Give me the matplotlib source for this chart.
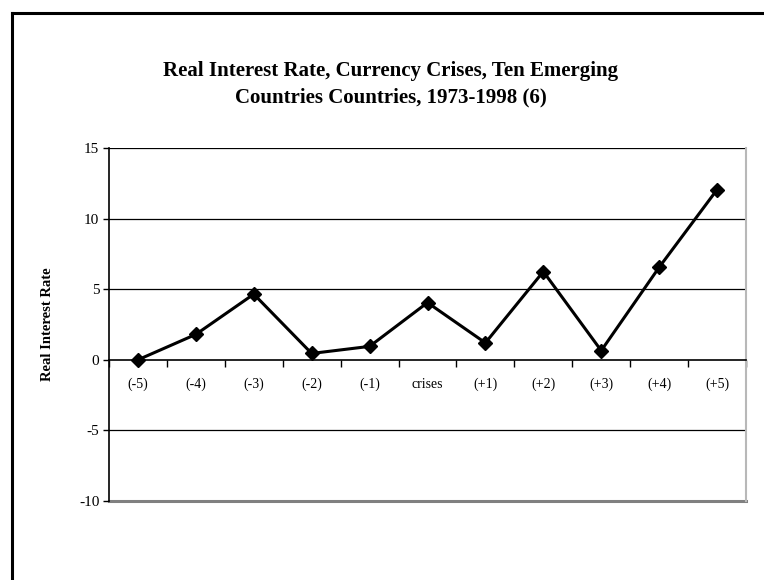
import numpy as np
import matplotlib
matplotlib.use("Agg")
import matplotlib.pyplot as plt
from matplotlib.lines import Line2D

periods = ["(-5)", "(-4)", "(-3)", "(-2)", "(-1)", "crises", "(+1)", "(+2)", "(+3)", "(+4)", "(+5)"]
real_rate = [0.0, 1.8, 4.65, 0.45, 0.95, 4.05, 1.2, 6.25, 0.65, 6.55, 12.05]
y_ticks = [-10, -5, 0, 5, 10, 15]

plt.rcParams['font.family'] = ['Liberation Serif', 'DejaVu Serif']
plt.rcParams['axes.unicode_minus'] = False

fig = plt.figure(figsize=(7.64, 5.8), dpi=100)
ax = fig.add_axes([109 / 764, 79 / 580, 637 / 764, 353 / 580])

x = np.arange(len(periods))

# horizontal grid lines, drawn by hand so 0 and -10 can differ
for t in y_ticks:
    if t in (0, -10):
        continue
    ax.axhline(t, color="black", lw=0.9, zorder=1)
ax.axhline(-10, color="#808080", lw=2.2, zorder=1, clip_on=False)

ax.plot(x, real_rate, color="black", lw=2.2, marker="D", markersize=7, zorder=3)

ax.set_xlim(-0.5, len(periods) - 0.5)
ax.set_ylim(-10, 15)
ax.set_yticks(y_ticks)

ax.set_xticks(x)
ax.set_xticklabels(periods, fontsize=10.5)
ax.set_xticks(np.arange(-0.5, len(periods), 1.0), minor=True)
ax.tick_params(axis="x", which="major", length=0, pad=13)
ax.tick_params(axis="x", which="minor", length=5, width=1, direction="out", color="black")
ax.tick_params(axis="y", length=4, width=1, direction="out", labelsize=11, pad=3)

ax.spines["bottom"].set_position(("data", 0))
ax.spines["bottom"].set_linewidth(1.2)
ax.spines["left"].set_linewidth(1.2)
ax.spines["top"].set_visible(False)
ax.spines["right"].set_color("#b8b8b8")
ax.spines["right"].set_linewidth(1.5)

ax.set_ylabel("Real Interest Rate", fontsize=10.5, fontweight="bold", labelpad=18)

fig.text(391 / 764, 1 - 84 / 580,
         "Real Interest Rate, Currency Crises, Ten Emerging\nCountries Countries, 1973-1998 (6)",
         ha="center", va="center", fontsize=15, fontweight="bold", linespacing=1.4)

# outer chart border (left and top edges visible)
fig.add_artist(Line2D([11.5 / 764, 11.5 / 764], [0, 1 - 13 / 580], color="black", lw=2.2,
                      transform=fig.transFigure))
fig.add_artist(Line2D([11.5 / 764, 1], [1 - 13 / 580, 1 - 13 / 580], color="black", lw=2.2,
                      transform=fig.transFigure))

fig.savefig("out.png", dpi=100)
